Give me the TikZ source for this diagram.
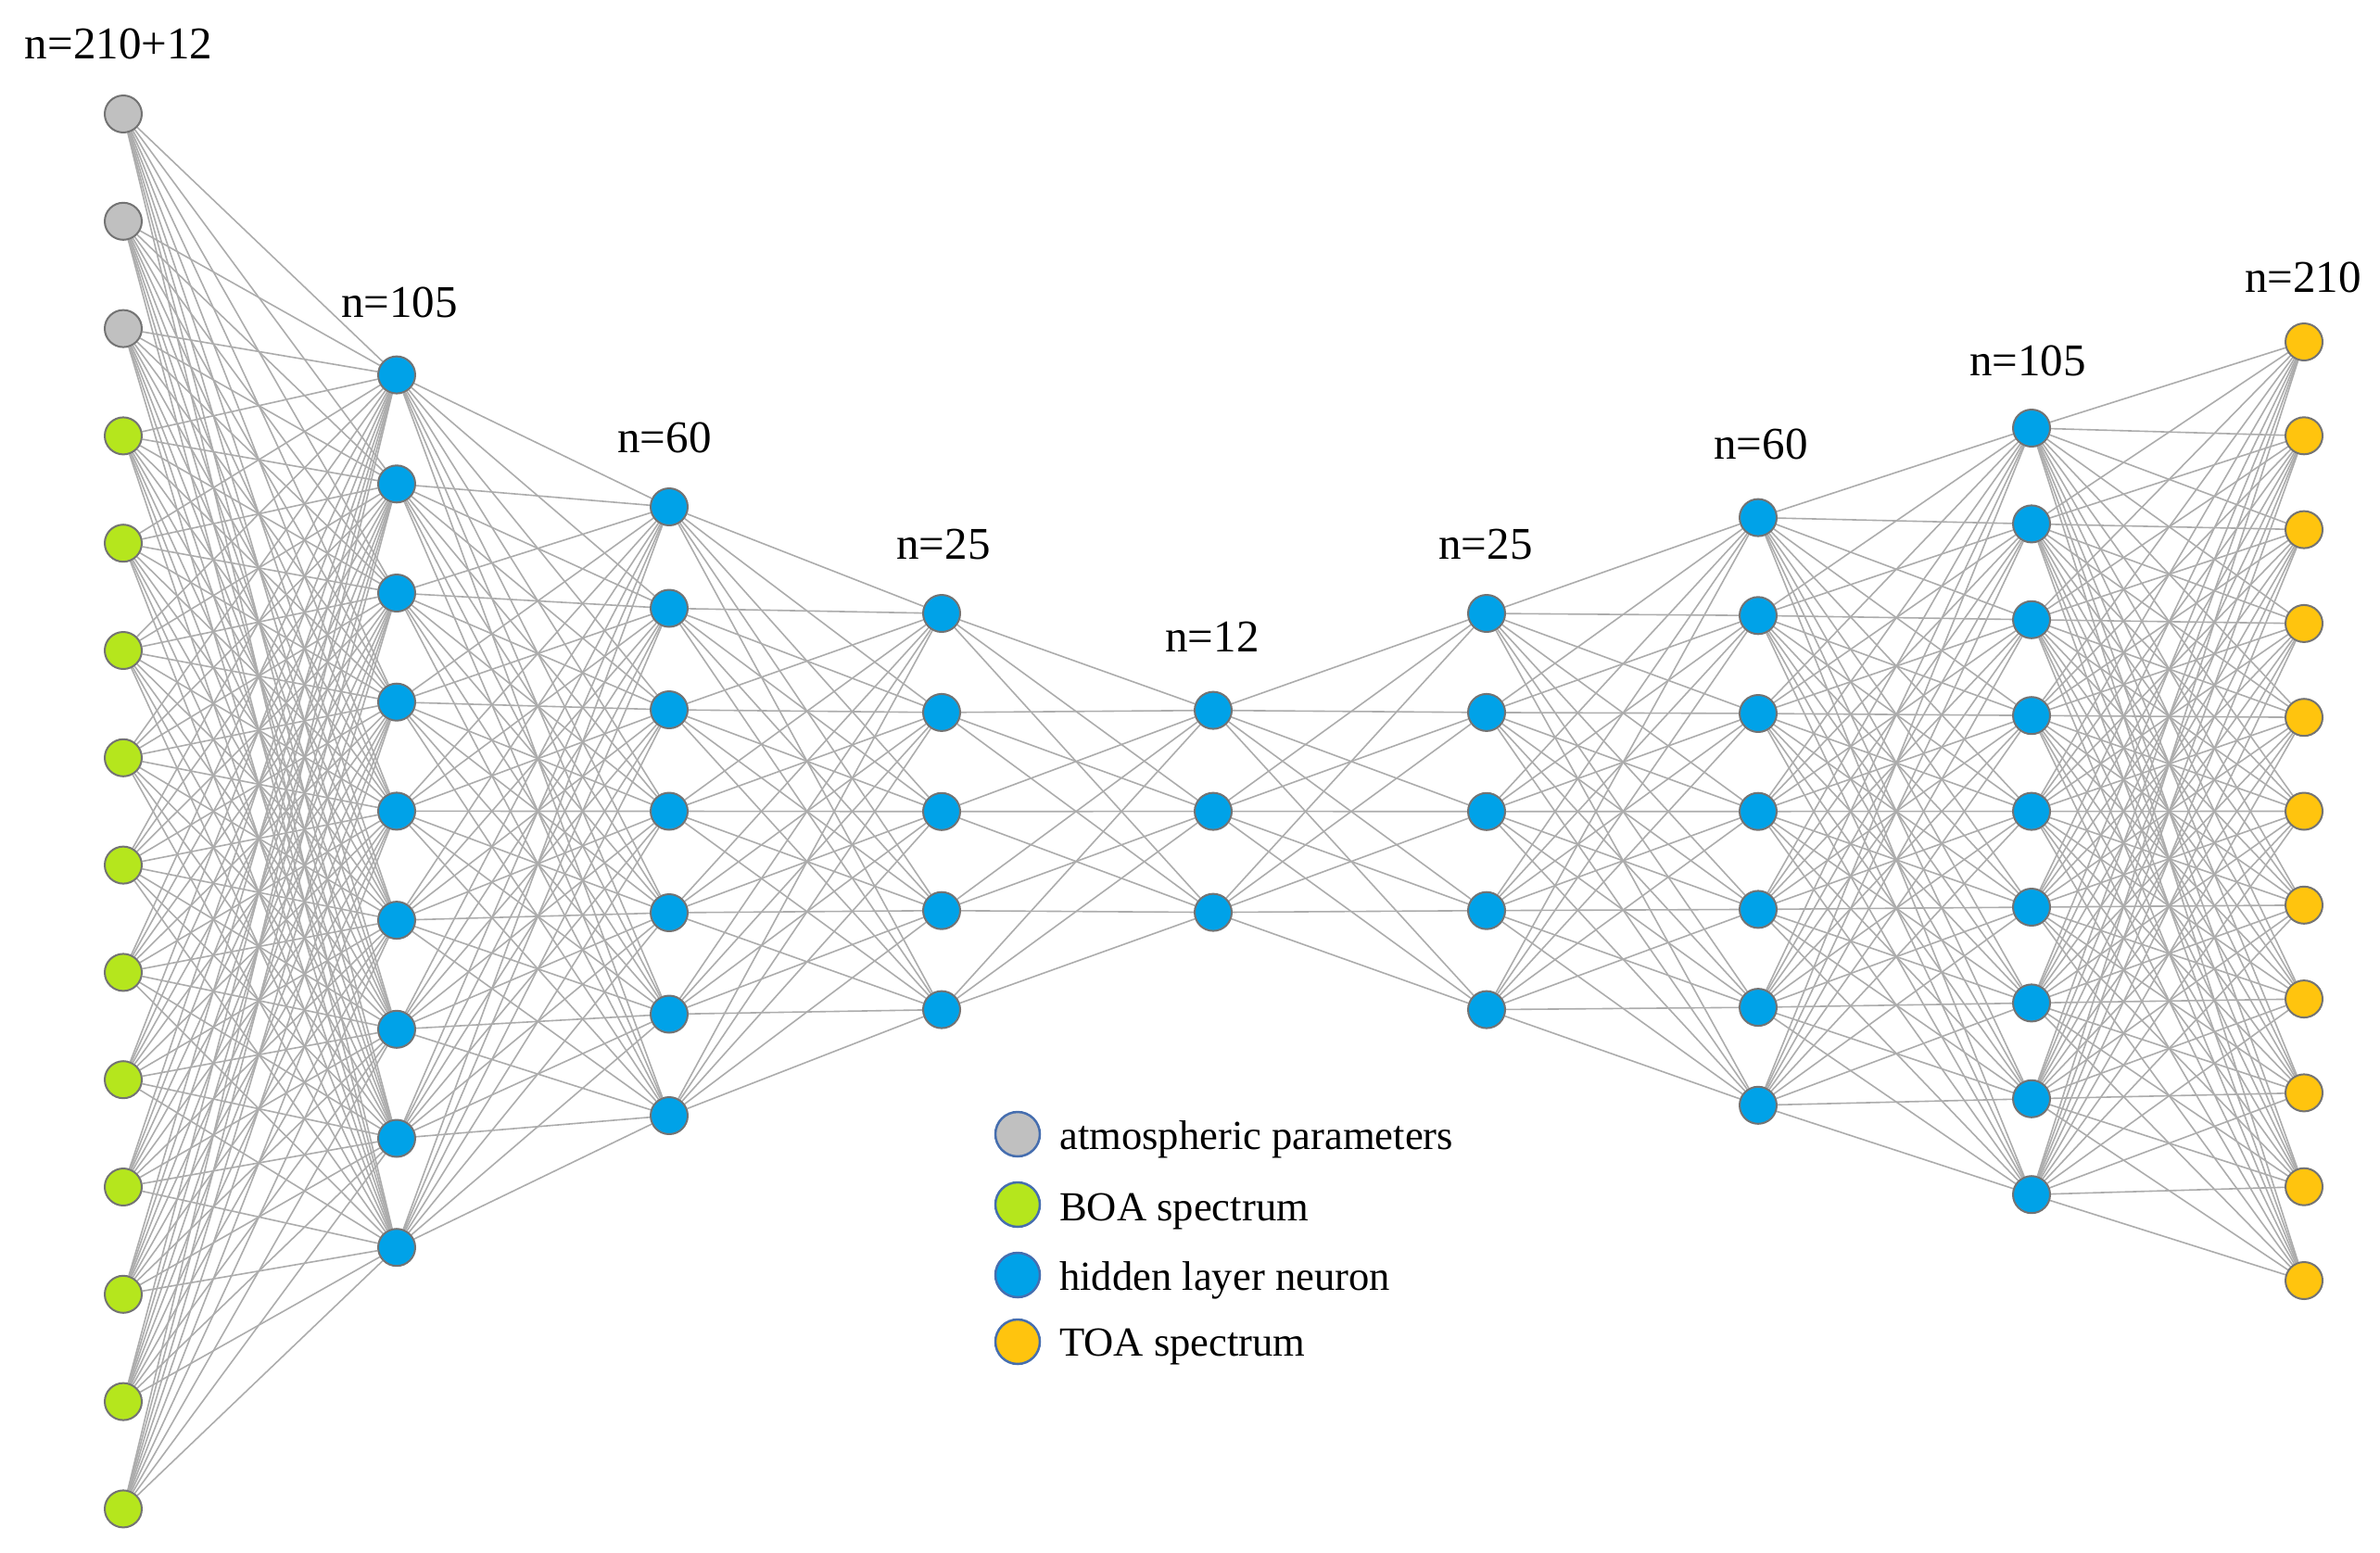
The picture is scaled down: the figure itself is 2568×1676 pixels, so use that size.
\documentclass[tikz,border=0pt]{standalone}
\usepackage{fontspec}
\setmainfont{Liberation Serif}
\usetikzlibrary{backgrounds}
\definecolor{cgray}{RGB}{192,192,192}
\definecolor{cgreen}{RGB}{181,230,29}
\definecolor{cblue}{RGB}{0,162,232}
\definecolor{corange}{RGB}{255,196,14}
\definecolor{cborder}{RGB}{115,115,115}
\definecolor{clegborder}{RGB}{70,110,175}
\definecolor{cedge}{RGB}{172,172,172}
\tikzset{
  neuron/.style={circle, draw=cborder, line width=2pt, minimum size=40pt, inner sep=0pt},
  legcirc/.style={circle, draw=clegborder, line width=2.5pt, minimum size=48pt, inner sep=0pt},
  edge/.style={draw=cedge, line width=1.6pt},
  layerlabel/.style={anchor=base, inner sep=0pt, font=\fontsize{49}{59}\selectfont},
  legtext/.style={anchor=base west, inner sep=0pt, font=\fontsize{44.6}{53}\selectfont},
}
\begin{document}
\begin{tikzpicture}[x=1pt, y=-1pt]
\useasboundingbox (0,0) rectangle (2568,1676);
% input layer
\foreach \i in {1,...,14}{
  \ifnum\i<4
    \node[neuron, fill=cgray] (L1-\i) at (133, {123+(\i-1)*115.8}) {};
  \else
    \node[neuron, fill=cgreen] (L1-\i) at (133, {123+(\i-1)*115.8}) {};
  \fi
}
% hidden layers
\foreach \l/\x/\n/\t/\s in {2/428/9/404.6/117.7, 3/722/7/547/109.5, 4/1016/5/662/106.9, 5/1309/3/766.6/109, 6/1604/5/662/106.9, 7/1897/7/558.6/105.7, 8/2192/9/462/103.4}{
  \foreach \i in {1,...,\n}{
    \node[neuron, fill=cblue] (L\l-\i) at (\x, {\t+(\i-1)*\s}) {};
  }
}
% output layer
\foreach \i in {1,...,11}{
  \node[neuron, fill=corange] (L9-\i) at (2486, {369+(\i-1)*101.3}) {};
}
% connections
\begin{pgfonlayer}{background}
\foreach \a/\na/\b/\nb in {1/14/2/9, 2/9/3/7, 3/7/4/5, 4/5/5/3, 5/3/6/5, 6/5/7/7, 7/7/8/9, 8/9/9/11}{
  \foreach \i in {1,...,\na}{
    \foreach \j in {1,...,\nb}{
      \draw[edge] (L\a-\i) -- (L\b-\j);
    }
  }
}
\end{pgfonlayer}
% layer labels
\node[layerlabel] (t1) at (128,63) {n=210+12};
\node[layerlabel] (t2) at (431,342) {n=105};
\node[layerlabel] (t3) at (717,488) {n=60};
\node[layerlabel] (t4) at (1018,603) {n=25};
\node[layerlabel] (t5) at (1308,703) {n=12};
\node[layerlabel] (t6) at (1603,603) {n=25};
\node[layerlabel] (t7) at (1900,495) {n=60};
\node[layerlabel] (t8) at (2188,405) {n=105};
\node[layerlabel] (t9) at (2485,315) {n=210};
% legend
\node[legcirc, fill=cgray] (g1) at (1098,1224) {};
\node[legcirc, fill=cgreen] (g2) at (1098,1300) {};
\node[legcirc, fill=cblue] (g3) at (1098,1376) {};
\node[legcirc, fill=corange] (g4) at (1098,1448) {};
\node[legtext] (lt1) at (1143,1240) {atmospheric parameters};
\node[legtext] (lt2) at (1143,1317) {BOA spectrum};
\node[legtext] (lt3) at (1143,1392) {hidden layer neuron};
\node[legtext] (lt4) at (1143,1463) {TOA spectrum};
\end{tikzpicture}
\end{document}
